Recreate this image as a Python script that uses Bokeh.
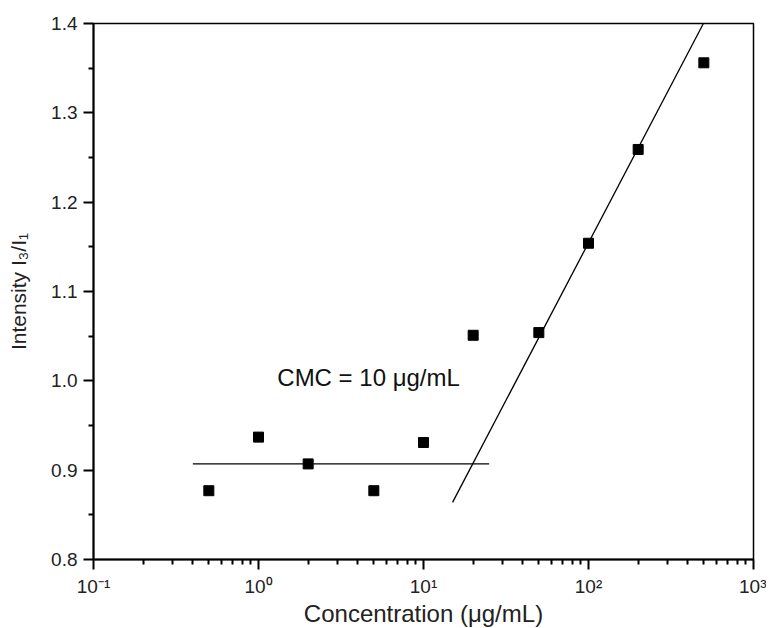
from bokeh.plotting import figure
from bokeh.models import FixedTicker, Range1d
from bokeh.core.properties import value
from bokeh.embed import file_html
from bokeh.resources import INLINE

# Data
conc = [0.5, 1, 2, 5, 10, 20, 50, 100, 200, 500]
ratio = [0.877, 0.937, 0.907, 0.877, 0.931, 1.051, 1.054, 1.154, 1.259, 1.356]

# Fitted lines (end points)
flat_x = [0.4, 25]
flat_y = [0.907, 0.907]
rise_x = [15, 497]
rise_y = [0.864, 1.40]

x_ticks = [0.1, 1, 10, 100, 1000]
x_tick_labels = ["10\u207b\u00b9", "10\u2070", "10\u00b9", "10\u00b2", "10\u00b3"]
y_ticks = [0.8, 0.9, 1.0, 1.1, 1.2, 1.3, 1.4]
y_tick_labels = ["0.8", "0.9", "1.0", "1.1", "1.2", "1.3", "1.4"]

FONT = "Liberation Sans"

p = figure(frame_width=660, frame_height=536, x_axis_type="log",
           x_range=Range1d(0.1, 1000), y_range=Range1d(0.8, 1.4),
           output_backend="svg", toolbar_location=None,
           min_border_left=93, min_border_right=13,
           min_border_top=23, min_border_bottom=60)

p.grid.visible = False
p.outline_line_color = "black"
p.outline_line_width = 1.5
p.background_fill_color = "white"
p.border_fill_color = "white"

minor_x = [m * 10.0 ** e for e in range(-1, 3) for m in range(2, 10)]
p.xaxis.ticker = FixedTicker(ticks=x_ticks, minor_ticks=minor_x)
p.xaxis.major_label_overrides = {t: l for t, l in zip(x_ticks, x_tick_labels)}
minor_y = [0.85, 0.95, 1.05, 1.15, 1.25, 1.35]
p.yaxis.ticker = FixedTicker(ticks=y_ticks, minor_ticks=minor_y)
p.yaxis.major_label_overrides = {t: l for t, l in zip(y_ticks, y_tick_labels)}

for ax in (p.xaxis[0], p.yaxis[0]):
    ax.axis_line_width = 2
    ax.axis_line_color = "black"
    ax.major_tick_line_width = 2
    ax.minor_tick_line_width = 2
    ax.major_tick_in = 0
    ax.major_tick_out = 10
    ax.minor_tick_in = 0
    ax.minor_tick_out = 5
    ax.major_label_text_font = FONT
    ax.major_label_text_color = "#222222"
    ax.axis_label_text_font = FONT
    ax.axis_label_text_font_style = "normal"
    ax.axis_label_text_color = "#222222"

p.xaxis.major_label_text_font_size = "19px"
p.yaxis.major_label_text_font_size = "19px"
p.xaxis.axis_label_text_font_size = "24px"
p.yaxis.axis_label_text_font_size = "21px"

p.xaxis.axis_label = "Concentration (\u03bcg/mL)"
p.yaxis.axis_label = "Intensity I\u2083/I\u2081"
p.xaxis.major_label_standoff = 6
p.yaxis.major_label_standoff = 6
p.xaxis.axis_label_standoff = 0
p.yaxis.axis_label_standoff = 18

p.line(flat_x, flat_y, line_color="black", line_width=1.3)
p.line(rise_x, rise_y, line_color="black", line_width=1.3)
p.scatter(conc, ratio, marker="square", size=10, fill_color="black", line_color="black")

p.text(x=[1.3], y=[1.004], text=["CMC = 10 \u03bcg/mL"],
       text_font=value(FONT), text_font_size="24px",
       text_align="left", text_baseline="middle", text_color="#111111")

open("out.html", "w").write(file_html(p, INLINE))
